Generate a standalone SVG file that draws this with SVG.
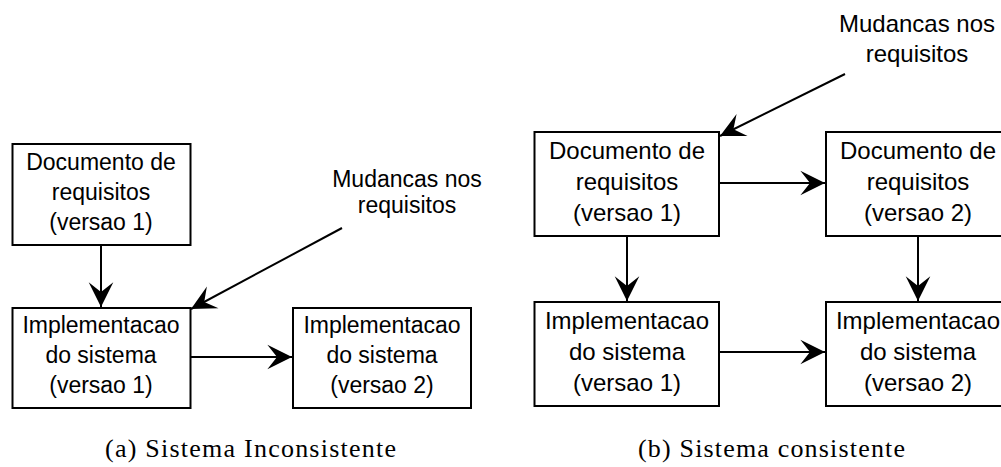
<svg xmlns="http://www.w3.org/2000/svg" width="1001" height="467" viewBox="0 0 1001 467">
<style>
.box{fill:#fff;stroke:#000;stroke-width:2}
.t{font-family:"Liberation Sans",Arial,sans-serif;fill:#000;text-anchor:middle}
.l{font-size:23px}
.r{font-size:24px}
.cap{font-family:"Liberation Serif","Times New Roman",serif;font-size:26px;fill:#000}
.c{stroke:#000;stroke-width:2;fill:none;marker-end:url(#ah)}
</style>
<defs>
<marker id="ah" markerUnits="userSpaceOnUse" markerWidth="30" markerHeight="30" viewBox="-26 -13 28 26" refX="0" refY="0" orient="auto">
<path d="M0,0 L-23,-11.5 L-14,0 L-23,11.5 Z" fill="#000"/>
</marker>
</defs>
<rect width="1001" height="467" fill="#fff"/>
<g id="connectors">
<line class="c" x1="101" y1="245" x2="101" y2="307"/>
<line class="c" x1="190" y1="357" x2="292" y2="357"/>
<line class="c" x1="342" y1="228" x2="191" y2="309"/>
<line class="c" x1="719" y1="183" x2="825" y2="183"/>
<line class="c" x1="719" y1="352" x2="825" y2="352"/>
<line class="c" x1="627" y1="236" x2="627" y2="301"/>
<line class="c" x1="918" y1="236" x2="918" y2="301"/>
<line class="c" x1="845" y1="74" x2="720" y2="136"/>
</g>
<g id="a-doc1">
<rect class="box" x="12.5" y="144" width="178" height="101"/>
<text class="t l" x="101" y="170">Documento de</text>
<text class="t l" x="101" y="200">requisitos</text>
<text class="t l" x="101" y="230">(versao 1)</text>
</g>
<g id="a-impl1">
<rect class="box" x="12.5" y="308" width="178" height="100"/>
<text class="t l" x="101" y="333">Implementacao</text>
<text class="t l" x="101" y="363">do sistema</text>
<text class="t l" x="101" y="393">(versao 1)</text>
</g>
<g id="a-impl2">
<rect class="box" x="293" y="308" width="178" height="100"/>
<text class="t l" x="382" y="333">Implementacao</text>
<text class="t l" x="382" y="363">do sistema</text>
<text class="t l" x="382" y="393">(versao 2)</text>
</g>
<g id="a-label">
<text class="t l" x="407" y="187">Mudancas nos</text>
<text class="t l" x="407" y="213">requisitos</text>
</g>
<g id="b-doc1">
<rect class="box" x="534.5" y="132" width="184.5" height="104"/>
<text class="t r" x="627" y="159">Documento de</text>
<text class="t r" x="627" y="190">requisitos</text>
<text class="t r" x="627" y="221">(versao 1)</text>
</g>
<g id="b-doc2">
<rect class="box" x="826" y="132" width="184.5" height="104"/>
<text class="t r" x="918" y="159">Documento de</text>
<text class="t r" x="918" y="190">requisitos</text>
<text class="t r" x="918" y="221">(versao 2)</text>
</g>
<g id="b-impl1">
<rect class="box" x="534.5" y="302" width="184.5" height="104"/>
<text class="t r" x="627" y="329">Implementacao</text>
<text class="t r" x="627" y="360">do sistema</text>
<text class="t r" x="627" y="391">(versao 1)</text>
</g>
<g id="b-impl2">
<rect class="box" x="826" y="302" width="184.5" height="104"/>
<text class="t r" x="918" y="329">Implementacao</text>
<text class="t r" x="918" y="360">do sistema</text>
<text class="t r" x="918" y="391">(versao 2)</text>
</g>
<g id="b-label">
<text class="t r" x="917" y="32">Mudancas nos</text>
<text class="t r" x="917" y="62">requisitos</text>
</g>
<text class="cap" x="105" y="457" textLength="291" lengthAdjust="spacing">(a) Sistema Inconsistente</text>
<text class="cap" x="638" y="457" textLength="267" lengthAdjust="spacing">(b) Sistema consistente</text>
</svg>
